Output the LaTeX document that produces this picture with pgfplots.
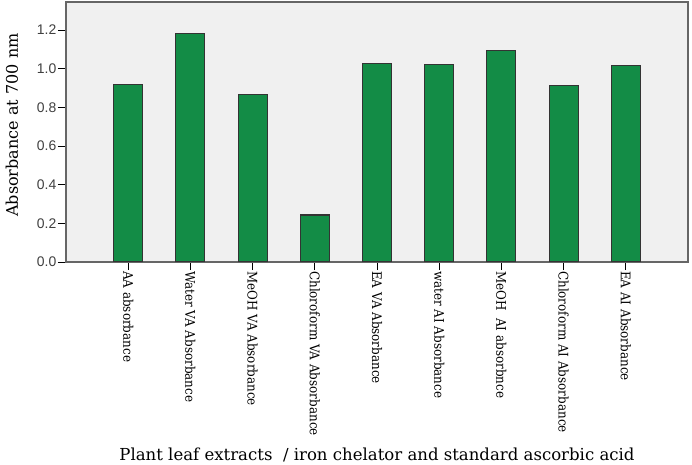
\documentclass[border=0pt]{standalone}
\usepackage{pgfplots}
\pgfplotsset{compat=1.18}
\usepackage{fontspec}
\setmainfont{DejaVu Serif}
\newfontfamily\condf{DejaVu Serif Condensed}
\newfontfamily\sansf{Liberation Sans}
\definecolor{barg}{RGB}{19,140,70}
\definecolor{bgg}{RGB}{240,240,240}
\begin{document}
\begin{tikzpicture}
\useasboundingbox (0,0) rectangle (692bp,465bp);
\begin{axis}[
  at={(66bp,203bp)}, anchor=south west,
  scale only axis, width=622bp, height=260bp,
  xmin=-1, xmax=9, ymin=0, ymax=1.345,
  ybar, bar width=29bp,
  axis background/.style={fill=bgg},
  axis line style={draw=black!60, line width=1.1bp},
  xtick pos=bottom, ytick pos=left,
  tick align=outside, major tick length=8bp,
  tick style={black, line width=0.8bp},
  xtick={0,...,8},
  xticklabels={AA absorbance, Water VA Absorbance, MeOH VA Absorbance, Chloroform VA Absorbance, EA VA Absorbance, water AI Absorbance, MeOH\ \ AI absorbnce, Chloroform AI Absorbance, EA AI Absorbance},
  x tick label style={rotate=-90, anchor=west, font=\condf\fontsize{13.3}{16}\selectfont, inner sep=1bp},
  ytick={0,0.2,...,1.2},
  /pgf/number format/assume math mode=true,
  yticklabel={\pgfmathprintnumber[fixed,zerofill,precision=1]{\tick}},
  y tick label style={font=\sansf\fontsize{14}{16}\selectfont, text=black!75, inner sep=1.5bp},
  ylabel={Absorbance at 700 nm},
  ylabel style={at={(axis description cs:-0.0868,0.527)}, anchor=center, font=\fontsize{16.1}{20}\selectfont},
  xlabel={Plant leaf extracts\ \ / iron chelator and standard ascorbic acid},
  xlabel style={at={(axis description cs:0.5,-0.742)}, anchor=center, font=\fontsize{16.6}{20}\selectfont},
]
\addplot[fill=barg, draw=black!80, line width=1.1bp] coordinates {
(0,0.917) (1,1.180) (2,0.868) (3,0.243) (4,1.025) (5,1.020) (6,1.095) (7,0.912) (8,1.015)};
\end{axis}
\end{tikzpicture}
\end{document}
